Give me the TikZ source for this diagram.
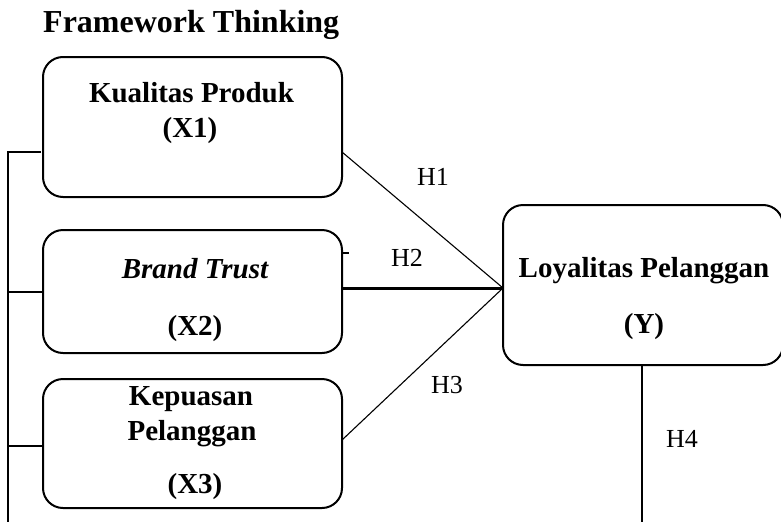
\documentclass[tikz,border=0pt]{standalone}
\usepackage{fontspec}
\setmainfont{Liberation Serif}
\usepackage{tikz}
\usetikzlibrary{positioning,calc}

\begin{document}
\begin{tikzpicture}[
    x=1pt, y=-1pt,
    var/.style={rectangle, draw, line width=2pt, rounded corners=20pt, minimum width=299pt},
    lbl/.style={anchor=base, font=\fontsize{29}{34}\selectfont\bfseries, inner sep=0pt},
    hyp/.style={anchor=base, font=\fontsize{26}{30}\selectfont, inner sep=0pt},
    link/.style={line width=1.1pt}
]
\useasboundingbox (0,0) rectangle (781,522);

% Title
\node[anchor=base west, font=\fontsize{32}{37}\selectfont\bfseries, inner sep=0pt] (title) at (43,32) {Framework Thinking};

% Independent variables
\node[var, minimum height=140pt] (x1box) at (192.5,127) {};
\node[lbl] (x1a) at (191.5,102) {Kualitas Produk};
\node[lbl] (x1b) at (190,137) {(X1)};

\node[var, minimum height=123pt] (x2box) at (192.5,291.5) {};
\node[lbl] (x2a) at (195,278) {\itshape Brand Trust};
\node[lbl] (x2b) at (195,335) {(X2)};

\node[var, minimum height=129pt] (x3box) at (192.5,443.5) {};
\node[lbl] (x3a) at (191,405) {Kepuasan};
\node[lbl] (x3b) at (192,440) {Pelanggan};
\node[lbl] (x3c) at (195,493) {(X3)};

% Dependent variable
\node[var, minimum width=280pt, minimum height=160pt] (ybox) at (643,285) {};
\node[lbl] (ya) at (644,277) {Loyalitas Pelanggan};
\node[lbl] (yb) at (644,333) {(Y)};

% Hypothesis labels
\node[hyp] (h1) at (433,185) {H1};
\node[hyp] (h2) at (407,266) {H2};
\node[hyp] (h3) at (447,393) {H3};
\node[hyp] (h4) at (682,447) {H4};

% Connector points
\coordinate (conv) at (503,288);
\coordinate (x1out) at (342,152);
\coordinate (x2out) at (342,288);
\coordinate (x3out) at (342,440);
\coordinate (x1in) at (41,152);
\coordinate (x2in) at (42,292);
\coordinate (x3in) at (42,446);
\coordinate (bartop) at (8,152);
\coordinate (barbot) at (8,522);
\coordinate (ybot) at (642,522);

% Paths to Y
\draw[link] (x1out) -- (conv);
\draw[line width=3pt] (x2out) -- (conv);
\draw[link] (x3out) -- (conv);
\draw[line width=2.5pt] ($(x2box.east)+(0,-38.5)$) -- ++(6,0);

% Left bracket
\draw[link] (x1in) -- (bartop) -- (barbot);
\draw[link] (x2in) -- (x2in -| bartop);
\draw[link] (x3in) -- (x3in -| bartop);

% H4 line
\draw[link] (ybox.south -| ybot) -- (ybot);

\end{tikzpicture}
\end{document}
